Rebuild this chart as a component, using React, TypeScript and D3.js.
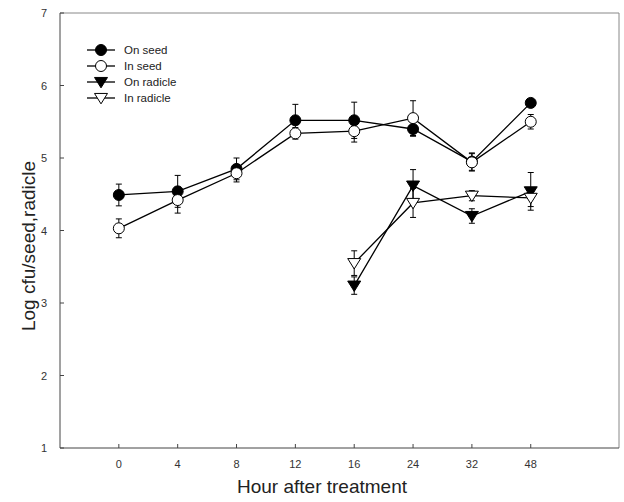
import React, { useEffect, useRef } from 'react';
import * as d3 from 'd3';

// x categories (hours), evenly spaced
const hours = ['0', '4', '8', '12', '16', '24', '32', '48'];
const yTicks = [1, 2, 3, 4, 5, 6, 7];

const onSeed = [4.49, 4.54, 4.85, 5.52, 5.52, 5.4, 4.95, 5.76];
const onSeedErr = [0.15, 0.22, 0.15, 0.22, 0.25, 0.1, 0.12, 0.05];
const inSeed = [4.03, 4.42, 4.79, 5.34, 5.37, 5.55, 4.94, 5.5];
const inSeedErr = [0.13, 0.18, 0.12, 0.08, 0.15, 0.24, 0.12, 0.1];
// radicle series start at 16 h (index 4)
const onRadicle = [3.24, 4.62, 4.2, 4.54];
const onRadicleErr = [0.12, 0.22, 0.1, 0.26];
const inRadicle = [3.55, 4.38, 4.48, 4.45];
const inRadicleErr = [0.17, 0.2, 0.07, 0.12];
const radicleStart = 4;

type Pt = { i: number; v: number; e: number };

const series = [
  { name: 'On seed', shape: 'circle', filled: true, pts: onSeed.map((v, i) => ({ i, v, e: onSeedErr[i] })) },
  { name: 'In seed', shape: 'circle', filled: false, pts: inSeed.map((v, i) => ({ i, v, e: inSeedErr[i] })) },
  { name: 'On radicle', shape: 'tri', filled: true, pts: onRadicle.map((v, k) => ({ i: k + radicleStart, v, e: onRadicleErr[k] })) },
  { name: 'In radicle', shape: 'tri', filled: false, pts: inRadicle.map((v, k) => ({ i: k + radicleStart, v, e: inRadicleErr[k] })) },
];

export default function App() {
  const ref = useRef<SVGSVGElement>(null);

  useEffect(() => {
    if (!ref.current) return;
    const svg = d3.select(ref.current);
    svg.selectAll('*').remove();

    const left = 60, right = 619, top = 13, bottom = 448;
    const x = d3.scaleLinear().domain([-1, 8.5]).range([left, right]);
    const y = d3.scaleLinear().domain([1, 7]).range([bottom, top]);
    const font = 'Liberation Sans, Arial, sans-serif';

    // frame
    svg.append('path')
      .attr('d', `M${left},${top}H${right}V${bottom}`)
      .attr('fill', 'none').attr('stroke', '#888').attr('stroke-width', 1);
    svg.append('path')
      .attr('d', `M${left},${top}V${bottom}H${right}`)
      .attr('fill', 'none').attr('stroke', '#444').attr('stroke-width', 1);

    // y ticks
    yTicks.forEach(t => {
      svg.append('line').attr('x1', left).attr('x2', left + 4)
        .attr('y1', y(t)).attr('y2', y(t)).attr('stroke', '#444');
      svg.append('text').attr('x', left - 13).attr('y', y(t) + 4)
        .attr('text-anchor', 'end').attr('font-family', font).attr('font-size', 11)
        .attr('fill', '#333').text(t);
    });

    // x ticks
    hours.forEach((h, i) => {
      svg.append('line').attr('x1', x(i)).attr('x2', x(i))
        .attr('y1', bottom).attr('y2', bottom - 4).attr('stroke', '#444');
      svg.append('text').attr('x', x(i)).attr('y', bottom + 20)
        .attr('text-anchor', 'middle').attr('font-family', font).attr('font-size', 11)
        .attr('fill', '#333').text(h);
    });

    // axis titles
    svg.append('text').attr('x', 322).attr('y', 493).attr('text-anchor', 'middle')
      .attr('font-family', font).attr('font-size', 19).attr('fill', '#222')
      .text('Hour after treatment');
    svg.append('text').attr('transform', `translate(35,246) rotate(-90)`)
      .attr('text-anchor', 'middle')
      .attr('font-family', font).attr('font-size', 19).attr('fill', '#222')
      .text('Log cfu/seed,radicle');

    const drawMarker = (g: any, shape: string, filled: boolean, cx: number, cy: number) => {
      if (shape === 'circle') {
        g.append('circle').attr('cx', cx).attr('cy', cy).attr('r', 5.5)
          .attr('fill', filled ? '#000' : '#fff').attr('stroke', '#000').attr('stroke-width', 1);
      } else {
        const s = 6.5;
        g.append('path')
          .attr('d', `M${cx - s},${cy - s * 0.7}L${cx + s},${cy - s * 0.7}L${cx},${cy + s * 0.9}Z`)
          .attr('fill', filled ? '#000' : '#fff').attr('stroke', '#000').attr('stroke-width', 1);
      }
    };

    const line = d3.line<Pt>().x(d => x(d.i)).y(d => y(d.v));

    // error bars
    const eg = svg.append('g');
    series.forEach(s => {
      s.pts.forEach(p => {
        const y0 = y(p.v - p.e), y1 = y(p.v + p.e);
        eg.append('line').attr('x1', x(p.i)).attr('x2', x(p.i)).attr('y1', y0).attr('y2', y1)
          .attr('stroke', '#000').attr('stroke-width', 1);
        [y0, y1].forEach(yy => eg.append('line').attr('x1', x(p.i) - 3).attr('x2', x(p.i) + 3)
          .attr('y1', yy).attr('y2', yy).attr('stroke', '#000').attr('stroke-width', 1));
      });
    });

    // lines
    series.forEach(s => {
      svg.append('path').datum(s.pts).attr('d', line as any)
        .attr('fill', 'none').attr('stroke', '#000').attr('stroke-width', 1.3);
    });

    // markers
    series.forEach(s => {
      const g = svg.append('g');
      s.pts.forEach(p => drawMarker(g, s.shape, s.filled, x(p.i), y(p.v)));
    });

    // legend
    const lg = svg.append('g');
    series.forEach((s, k) => {
      const ly = 50 + k * 16;
      lg.append('line').attr('x1', 87).attr('x2', 115).attr('y1', ly).attr('y2', ly)
        .attr('stroke', '#000').attr('stroke-width', 1.3);
      drawMarker(lg, s.shape, s.filled, 101, ly);
      lg.append('text').attr('x', 124).attr('y', ly + 4).attr('font-family', font)
        .attr('font-size', 11.5).attr('fill', '#222').text(s.name);
    });
  }, []);

  return <svg ref={ref} width={624} height={502} style={{ position: 'absolute', left: 0, top: 0, background: '#fff' }} />;
}
